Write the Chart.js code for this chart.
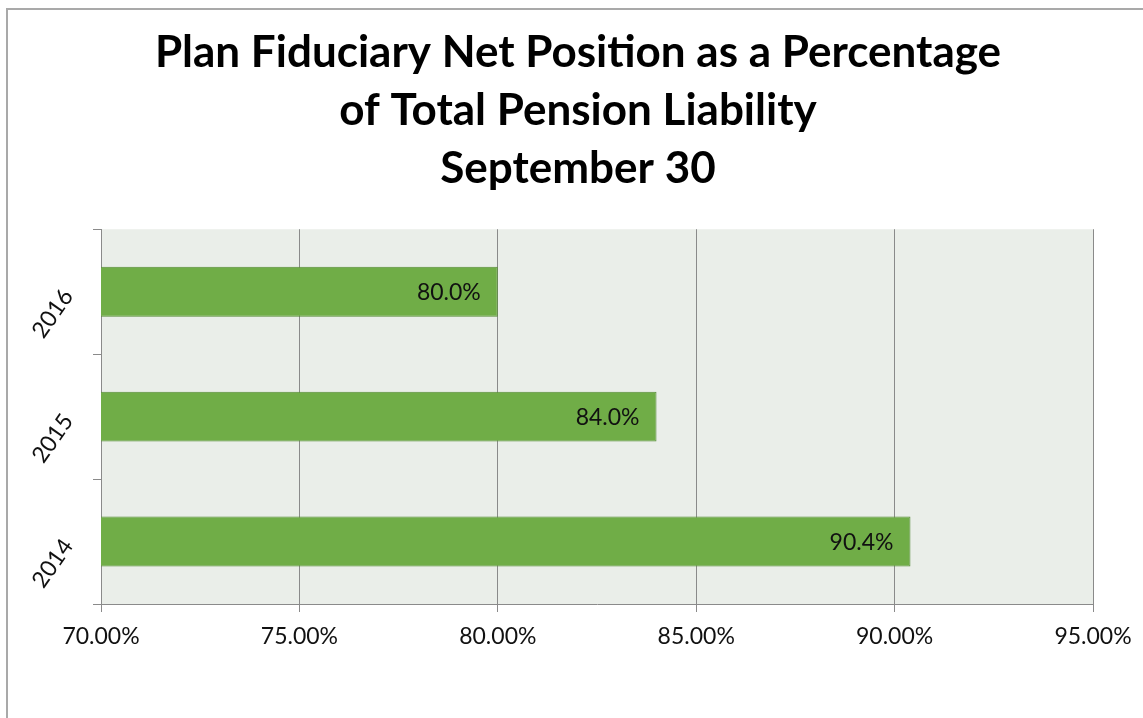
<!DOCTYPE html>
<html>
<head>
<meta charset="utf-8">
<script src="https://cdn.jsdelivr.net/npm/chart.js@4"></script>
<style>
  html, body { margin: 0; padding: 0; background: #fff; overflow: hidden; }
  #wrap { position: relative; width: 1143px; height: 718px; }
  #frame { position: absolute; left: 6px; top: 8px; width: 1200px; height: 800px; border: 2px solid #a9a9a9; box-sizing: border-box; pointer-events: none; }
  canvas { position: absolute; left: 0; top: 0; }
</style>
</head>
<body>
<div id="wrap">
  <div id="frame"></div>
  <canvas id="graficoPensao" width="1143" height="718"></canvas>
</div>
<script>
// dados
const anos = ['2014', '2015', '2016'];
const percentuais = [0.904, 0.840, 0.800];
const tituloLinhas = ['Plan Fiduciary Net Position as a Percentage', 'of Total Pension Liability', 'September 30'];
const eixoMin = 0.70;
const eixoMax = 0.95;
const eixoPasso = 0.05;

const fonte = "Lato, 'Open Sans', sans-serif";

// fundo da área do gráfico
const fundoArea = {
    id: 'fundoArea',
    beforeDraw(chart) {
        const { ctx, chartArea } = chart;
        ctx.save();
        ctx.fillStyle = '#eaeee9';
        ctx.fillRect(chartArea.left, chartArea.top, chartArea.right - chartArea.left, chartArea.bottom - chartArea.top);
        ctx.restore();
    }
};

// rótulos dentro da ponta da barra
const rotulosBarras = {
    id: 'rotulosBarras',
    afterDatasetsDraw(chart) {
        const { ctx } = chart;
        const meta = chart.getDatasetMeta(0);
        ctx.save();
        ctx.font = '23px ' + fonte;
        ctx.fillStyle = '#111';
        ctx.textAlign = 'right';
        ctx.textBaseline = 'middle';
        meta.data.forEach(function (barra, i) {
            const v = chart.data.datasets[0].data[i];
            ctx.fillText((v * 100).toFixed(1) + '%', barra.x - 17, barra.y + 1);
        });
        ctx.restore();
    }
};

document.addEventListener('DOMContentLoaded', function () {
    const configuracao = {
        type: 'bar',
        data: {
            labels: anos,
            datasets: [{
                data: percentuais,
                backgroundColor: '#70ad47',
                borderColor: '#558b35',
                borderWidth: 1,
                borderSkipped: false,
                barPercentage: 0.4,
                categoryPercentage: 1.0
            }]
        },
        options: {
            indexAxis: 'y',
            responsive: false,
            animation: false,
            layout: { padding: { left: 13, right: 0, top: 0, bottom: 0 } },
            plugins: {
                legend: { display: false },
                tooltip: { enabled: false },
                title: {
                    display: true,
                    text: tituloLinhas,
                    color: '#000',
                    font: { family: fonte, size: 44, weight: 'bold', lineHeight: 1.32 },
                    padding: { top: 24, bottom: 31 }
                }
            },
            scales: {
                x: {
                    min: eixoMin,
                    max: eixoMax,
                    afterFit(scale) { scale.height = 114; scale.paddingRight = 50; },
                    ticks: {
                        stepSize: eixoPasso,
                        color: '#111',
                        padding: 11,
                        maxRotation: 0,
                        font: { family: fonte, size: 23 },
                        callback: function (v) { return (v * 100).toFixed(2) + '%'; }
                    },
                    grid: { color: '#8a8a8a', lineWidth: 1, tickLength: 8 },
                    border: { color: '#8a8a8a', width: 1 }
                },
                y: {
                    reverse: true,
                    afterFit(scale) { scale.width = 88; },
                    ticks: {
                        color: '#111',
                        minRotation: 55,
                        maxRotation: 55,
                        padding: 25,
                        font: { family: fonte, size: 23 }
                    },
                    grid: { display: true, drawOnChartArea: false, offset: true, color: '#8a8a8a', tickLength: 8 },
                    border: { color: '#8a8a8a', width: 1 }
                }
            }
        },
        plugins: [fundoArea, rotulosBarras]
    };

    var graficoPensao = new Chart(document.getElementById('graficoPensao'), configuracao);
});
</script>
</body>
</html>
